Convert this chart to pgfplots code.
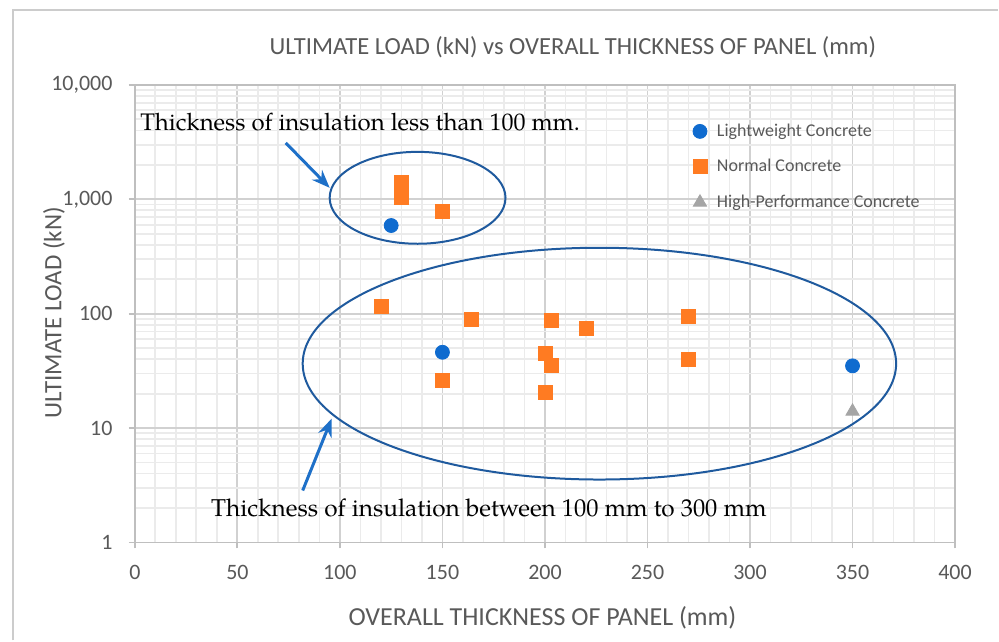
\documentclass[border=0pt]{standalone}
\usepackage{fontspec}
\setmainfont{Carlito}
\newfontfamily\pal{texgyrepagella-regular.otf}
\usepackage{pgfplots}
\pgfplotsset{compat=1.18}
\usetikzlibrary{arrows.meta}
\definecolor{lwc}{HTML}{0F6BCF}
\definecolor{nc}{HTML}{FF7B22}
\definecolor{hpc}{HTML}{A5A5A5}
\definecolor{tgray}{HTML}{595959}
\definecolor{ellc}{HTML}{1F5A9E}
\definecolor{arrc}{HTML}{1E70C8}
\begin{document}
\begin{tikzpicture}[x=0.5pt,y=-0.5pt]
\path[fill=white] (0,0) rectangle (999,641);
\draw[black!20, line width=1pt] (13.5,641) -- (13.5,10) -- (999,10);
\begin{axis}[
  at={(67.5pt,-271.5pt)}, anchor=south west,
  scale only axis, width=410.5pt, height=229pt,
  xmin=0, xmax=400, ymode=log, ymin=1, ymax=10000,
  xtick={0,50,...,400}, minor x tick num=4,
  ytick={1,10,100,1000,10000}, yticklabels={1,10,100,{1,000},{10,000}},
  /pgf/number format/assume math mode=true,
  grid=both,
  major grid style={color=black!18, line width=0.9pt},
  minor grid style={color=black!8, line width=0.9pt},
  axis line style={black!25, line width=0.9pt},
  tick style={black!25, line width=0.9pt},
  tick align=outside, major tick length=3pt, minor tick length=0pt,
  xtick pos=left, ytick pos=left,
  ticklabel style={font=\fontsize{11}{13}\selectfont, text=tgray},
  xticklabel style={anchor=north, inner sep=0pt, yshift=-8pt},
  yticklabel style={anchor=east, inner sep=0pt, xshift=-8pt},
  title={ULTIMATE LOAD (kN) vs OVERALL THICKNESS OF PANEL (mm)},
  title style={at={(axis description cs:0.534,1.057)}, anchor=center, font=\fontsize{12.3}{14}\selectfont, text=tgray},
  xlabel={OVERALL THICKNESS OF PANEL (mm)},
  xlabel style={at={(axis description cs:0.497,-0.165)}, anchor=center, font=\fontsize{13}{15}\selectfont, text=tgray},
  legend style={at={(axis description cs:0.68,0.9206)}, anchor=north west, draw=none, fill=none,
    font=\fontsize{9}{11}\selectfont, text=tgray, row sep=8pt, column sep=4pt, inner sep=0pt, nodes={inner sep=1pt}},
  legend cell align=left,
  legend image code/.code={\draw[#1] plot coordinates {(0pt,0pt)};},
  clip=false,
]
\addplot[only marks, mark=*, mark size=3.5pt, color=lwc] coordinates {(125,590) (150,46) (350,35)};
\addlegendentry{Lightweight Concrete}
\addplot[only marks, mark=square*, mark size=3.5pt, color=nc] coordinates {
(130,1400) (130,1030) (150,780) (120,115) (164,90) (150,26) (203,88) (200,45) (203,35) (200,20.5) (220,74) (270,94) (270,40)};
\addlegendentry{Normal Concrete}
\addplot[only marks, mark=triangle*, mark size=3.8pt, color=hpc] coordinates {(350,14)};
\addlegendentry{High-Performance Concrete}
\end{axis}
\node[rotate=90, anchor=center, inner sep=0pt, font=\fontsize{12.5}{15}\selectfont, text=tgray] at (54,313) {ULTIMATE LOAD (kN)};
\draw[ellc, line width=1pt] (418,198) ellipse [x radius=44pt, y radius=23pt];
\draw[ellc, line width=1pt] (600,364) ellipse [x radius=148.5pt, y radius=58pt];
\draw[arrc, line width=1.5pt, -{Stealth[length=9pt, width=7pt]}] (286,143) -- (330,188);
\draw[arrc, line width=1.5pt, -{Stealth[length=9pt, width=7pt]}] (303,491) -- (332,419);
\node[anchor=base west, inner sep=0pt, font=\pal\fontsize{12}{14}\selectfont] at (140,131) {Thickness of insulation less than 100 mm.};
\node[anchor=base west, inner sep=0pt, font=\pal\fontsize{12.2}{14}\selectfont] at (211,517) {Thickness of insulation between 100 mm to 300 mm};
\end{tikzpicture}
\end{document}
